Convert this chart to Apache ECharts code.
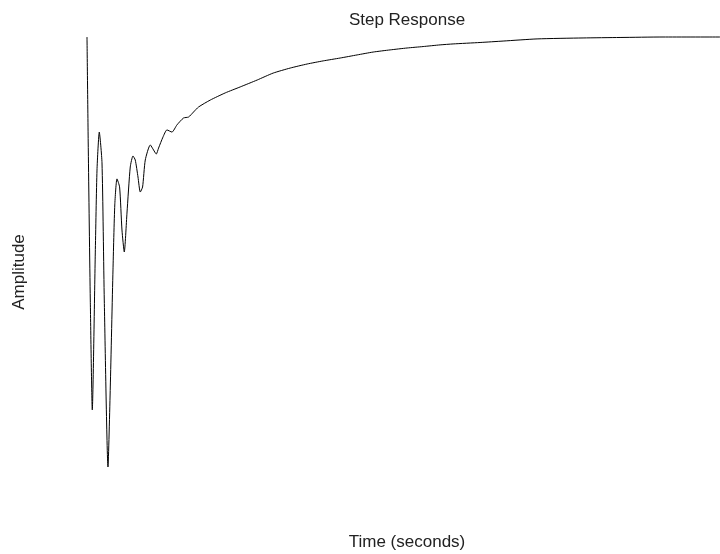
<!DOCTYPE html>
<html>
<head>
<meta charset="utf-8">
<script src="https://cdn.jsdelivr.net/npm/echarts@6/dist/echarts.min.js"></script>
<style>html,body{margin:0;padding:0;background:#fff}#c{width:720px;height:554px}</style>
</head>
<body>
<div id="c"></div>
<script>
const titleText = 'Step Response';
const xLabelText = 'Time (seconds)';
const yLabelText = 'Amplitude';

const timeValues = [0, 0.041, 0.104, 0.167, 0.262, 0.316, 0.388, 0.474, 0.546, 0.663,
  0.736, 0.821, 0.878, 0.947, 1.030, 1.105, 1.178, 1.263, 1.367, 1.453,
  1.525, 1.611, 1.683, 1.756, 1.841, 1.999, 2.103, 2.188, 2.261, 2.400,
  2.526, 2.684, 2.842, 3.051, 3.209, 3.366, 3.524, 3.894, 4.368, 4.841,
  5.378, 5.883, 6.420, 6.957, 7.462, 7.999, 8.536, 9.041, 9.578, 10.115,
  10.620, 11.157, 11.568, 12.420, 13.147, 14.220, 15.673, 16.842, 18.200, 20.0];
const amplitudeValues = [1.0, 0.527, -0.101, -0.561, 0.096, 0.443, 0.602, 0.473, -0.101, -0.8,
  -0.465, 0.025, 0.297, 0.406, 0.372, 0.192, 0.100, 0.263, 0.456, 0.502,
  0.485, 0.414, 0.351, 0.372, 0.485, 0.548, 0.527, 0.510, 0.535, 0.581,
  0.611, 0.602, 0.632, 0.661, 0.665, 0.686, 0.707, 0.736, 0.766, 0.791,
  0.820, 0.849, 0.870, 0.887, 0.900, 0.912, 0.925, 0.937, 0.946, 0.954,
  0.960, 0.967, 0.971, 0.977, 0.983, 0.992, 0.996, 0.998, 1.0, 1.0];

const seriesData = timeValues.map((t, i) => [t, amplitudeValues[i]]);
const font = '"Liberation Sans", Arial, sans-serif';

const chart = echarts.init(document.getElementById('c'), null, {renderer: 'canvas'});
chart.setOption({
  animation: false,
  backgroundColor: '#ffffff',
  grid: {left: 87, right: 0, top: 37, bottom: 87, containLabel: false},
  xAxis: {type: 'value', min: 0, max: 20, show: false},
  yAxis: {type: 'value', min: -0.8, max: 1.0, show: false},
  graphic: [
    {type: 'text', x: 407, y: 20, style: {text: titleText, font: '17px ' + font, fill: '#222', align: 'center', verticalAlign: 'middle'}},
    {type: 'text', x: 407, y: 542, style: {text: xLabelText, font: '17px ' + font, fill: '#222', align: 'center', verticalAlign: 'middle'}},
    {type: 'text', x: 19, y: 272, rotation: Math.PI / 2, style: {text: yLabelText, font: '17px ' + font, fill: '#222', align: 'center', verticalAlign: 'middle'}}
  ],
  series: [{
    type: 'line',
    data: seriesData,
    showSymbol: false,
    smooth: 0.2,
    clip: false,
    lineStyle: {color: '#000000', width: 1}
  }]
});
</script>
</body>
</html>
